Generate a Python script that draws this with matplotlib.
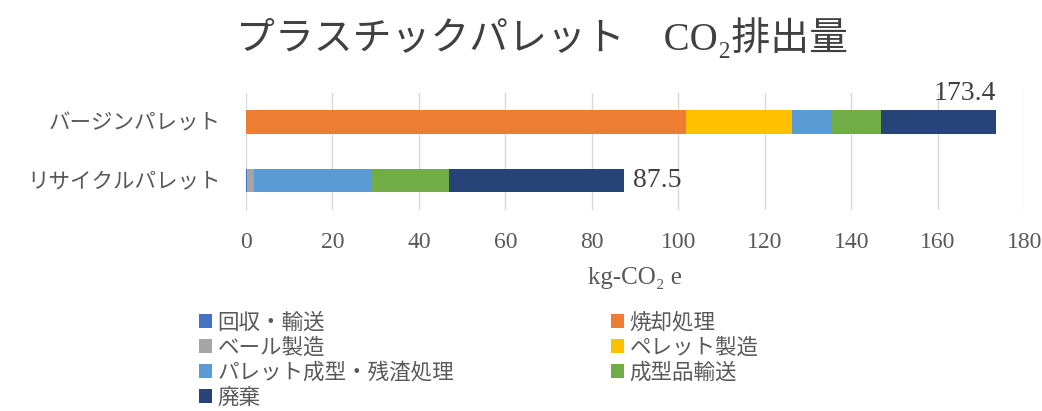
import matplotlib.pyplot as plt
from matplotlib.patches import Patch
import numpy as np

plt.rcParams['font.family'] = ['Liberation Serif', 'Noto Sans CJK JP']

# categories bottom -> top
categories = ['リサイクルパレット', 'バージンパレット']

stages = ['回収・輸送', '焼却処理', 'ベール製造', 'ペレット製造',
          'パレット成型・残渣処理', '成型品輸送', '廃棄']
colors = ['#4472C4', '#ED7D31', '#A5A5A5', '#FFC000',
          '#5B9BD5', '#70AD47', '#264478']

# values per stage: [recycle, virgin]
recycle_vals = [0.3, 0.0, 1.5, 0.0, 27.4, 17.7, 40.6]
virgin_vals = [0.0, 101.7, 0.0, 24.5, 9.0, 11.7, 26.5]
totals = [87.5, 173.4]

xticks = [0, 20, 40, 60, 80, 100, 120, 140, 160, 180]

txt = '#595959'

fig = plt.figure(figsize=(10.42, 4.11), dpi=100)
ax = fig.add_axes([0.236, 0.489, 0.747, 0.285])

y = np.arange(len(categories))
left = np.zeros(len(categories))
for name, c, rv, vv in zip(stages, colors, recycle_vals, virgin_vals):
    vals = np.array([rv, vv])
    ax.barh(y, vals, left=left, height=0.4, color=c, zorder=3)
    left += vals

ax.set_xlim(0, 180)
ax.set_ylim(-0.5, 1.5)
ax.set_xticks(xticks)
ax.set_yticks(y)
ax.set_yticklabels(categories, fontsize=15.5, color=txt)
ax.tick_params(axis='x', labelsize=17, colors=txt, length=0, pad=16)
ax.tick_params(axis='y', length=0, pad=18)
ax.grid(axis='x', color='#d9d9d9', linewidth=1, zorder=0)
for s in ax.spines.values():
    s.set_visible(False)

# totals
ax.annotate(f'{totals[1]}', (totals[1], 1.2), xytext=(0, 3), textcoords='offset points',
            ha='right', va='bottom', fontsize=20, color='#404040')
ax.annotate(f'{totals[0]}', (totals[0], 0), xytext=(6, 0), textcoords='offset points',
            ha='left', va='center', fontsize=20, color='#404040')

ax.set_xlabel('kg-CO₂ e', fontsize=18, color=txt, labelpad=10)

fig.suptitle('プラスチックパレット　CO₂排出量', x=0.52, y=0.955, fontsize=28, color='#404040')

# legend: fill row-wise in two columns
order = [0, 2, 4, 6, 1, 3, 5]
handles = [Patch(facecolor=colors[i]) for i in order]
labels = [stages[i] for i in order]
fig.legend(handles, labels, ncol=2, loc='upper left', bbox_to_anchor=(0.183, 0.26),
           frameon=False, fontsize=15.5, labelcolor=txt, handlelength=0.6, handleheight=0.6,
           handletextpad=0.25, columnspacing=7.3, labelspacing=0.22, borderaxespad=0)

fig.savefig('out.png', dpi=100, facecolor='white')
